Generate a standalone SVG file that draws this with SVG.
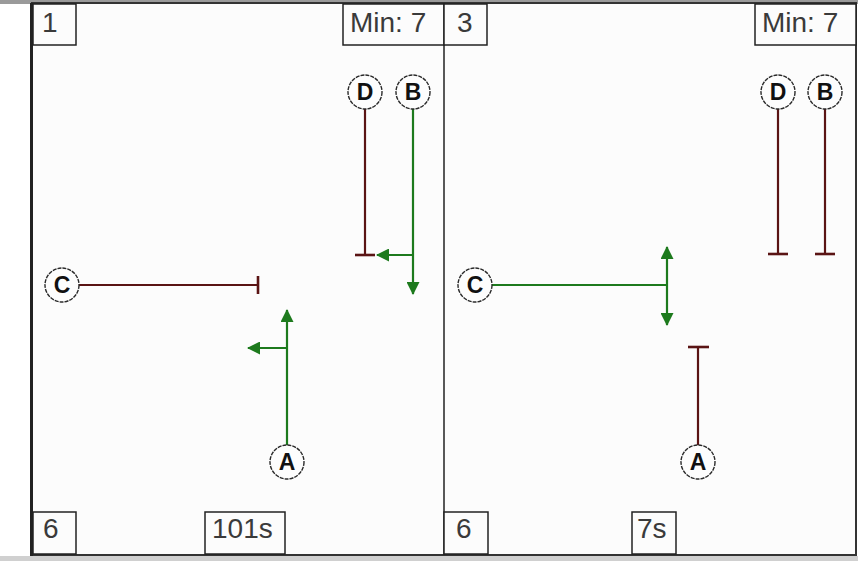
<svg xmlns="http://www.w3.org/2000/svg" width="858" height="561" viewBox="0 0 858 561">
<style>
.lbl{font-family:"Liberation Sans",Arial,sans-serif;font-size:28px;fill:#3a3a3a}
.box{fill:#fcfcfc;stroke:#222;stroke-width:1.5}
.nd circle{fill:#fdfdfd;stroke:#2a2a2a;stroke-width:1.4;stroke-dasharray:4 1}
.nd text{font-family:"Liberation Sans",Arial,sans-serif;font-weight:bold;font-size:23px;fill:#111;text-anchor:middle}
.red{stroke:#5a1414;stroke-width:2.2;fill:none}
.grn{stroke:#1d7a1d;stroke-width:2.2;fill:none}
.tbar{stroke:#5a1414;stroke-width:2.6}
</style>
<defs>
<marker id="ar" viewBox="0 0 13 13" refX="12" refY="6.5" markerWidth="13" markerHeight="13" markerUnits="userSpaceOnUse" orient="auto">
<path d="M0,0 L13,6.5 L0,13 z" fill="#1d7a1d"/>
</marker>
</defs>
<rect x="0" y="0" width="858" height="561" fill="#ffffff"/>
<rect x="0" y="0" width="858" height="4" fill="#9a9a9a"/>
<rect x="0" y="556" width="858" height="5" fill="#d0d0d0"/>
<rect x="32" y="3" width="824" height="552" fill="#fcfcfc" stroke="#333" stroke-width="2"/>
<line x1="31.5" y1="3" x2="31.5" y2="556" stroke="#222" stroke-width="3"/>
<line x1="444" y1="3" x2="444" y2="555" stroke="#222" stroke-width="1.5"/>

<g id="panel1-labels">
<rect class="box" x="33" y="4" width="43" height="41"/><text class="lbl" x="42" y="32">1</text>
<rect class="box" x="343" y="4" width="101" height="41"/><text class="lbl" x="350" y="32">Min: 7</text>
<rect class="box" x="33" y="512" width="43" height="42"/><text class="lbl" x="43" y="538">6</text>
<rect class="box" x="205" y="512" width="80" height="42"/><text class="lbl" x="212" y="538">101s</text>
</g>
<g id="panel2-labels">
<rect class="box" x="444" y="4" width="43" height="41"/><text class="lbl" x="457" y="32">3</text>
<rect class="box" x="755" y="4" width="101" height="41"/><text class="lbl" x="762" y="32">Min: 7</text>
<rect class="box" x="444" y="512" width="44" height="42"/><text class="lbl" x="456" y="538">6</text>
<rect class="box" x="632" y="512" width="44" height="42"/><text class="lbl" x="637" y="538">7s</text>
</g>

<g id="connectors">
<line class="red" x1="365" y1="109" x2="365" y2="255"/>
<line class="tbar" x1="355" y1="255" x2="375" y2="255"/>
<line class="grn" x1="413" y1="109" x2="413" y2="294" marker-end="url(#ar)"/>
<line class="grn" x1="413" y1="255" x2="377" y2="255" marker-end="url(#ar)"/>
<line class="red" x1="79" y1="285" x2="258" y2="285"/>
<line class="tbar" x1="258" y1="276" x2="258" y2="294"/>
<line class="grn" x1="287" y1="445" x2="287" y2="310" marker-end="url(#ar)"/>
<line class="grn" x1="287" y1="348" x2="248" y2="348" marker-end="url(#ar)"/>

<line class="grn" x1="492" y1="285" x2="667" y2="285"/>
<line class="grn" x1="667" y1="285" x2="667" y2="247" marker-end="url(#ar)"/>
<line class="grn" x1="667" y1="285" x2="667" y2="325" marker-end="url(#ar)"/>
<line class="red" x1="698" y1="445" x2="698" y2="347"/>
<line class="tbar" x1="688" y1="347" x2="709" y2="347"/>
<line class="red" x1="778" y1="109" x2="778" y2="254"/>
<line class="tbar" x1="768" y1="254" x2="788" y2="254"/>
<line class="red" x1="825" y1="109" x2="825" y2="254"/>
<line class="tbar" x1="815" y1="254" x2="835" y2="254"/>
</g>

<g id="p1-D" class="nd"><circle cx="365" cy="92" r="17"/><text x="365" y="100">D</text></g>
<g id="p1-B" class="nd"><circle cx="413" cy="92" r="17"/><text x="413" y="100">B</text></g>
<g id="p1-C" class="nd"><circle cx="62" cy="285" r="17"/><text x="62" y="293">C</text></g>
<g id="p1-A" class="nd"><circle cx="287" cy="462" r="17"/><text x="287" y="470">A</text></g>
<g id="p2-D" class="nd"><circle cx="778" cy="92" r="17"/><text x="778" y="100">D</text></g>
<g id="p2-B" class="nd"><circle cx="825" cy="92" r="17"/><text x="825" y="100">B</text></g>
<g id="p2-C" class="nd"><circle cx="475" cy="285" r="17"/><text x="475" y="293">C</text></g>
<g id="p2-A" class="nd"><circle cx="698" cy="462" r="17"/><text x="698" y="470">A</text></g>
</svg>
